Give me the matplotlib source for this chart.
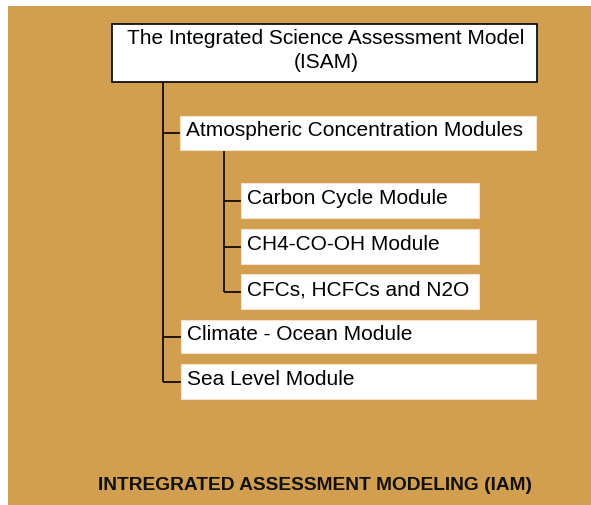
import matplotlib
matplotlib.use("Agg")
import matplotlib.pyplot as plt
from matplotlib.patches import Rectangle

# -------------------------
# Diagram content
# -------------------------
TITLE = ["The Integrated Science Assessment Model", "(ISAM)"]
LEVEL1 = ["Atmospheric Concentration Modules", "Climate - Ocean Module", "Sea Level Module"]
LEVEL2 = ["Carbon Cycle Module", "CH4-CO-OH Module", "CFCs, HCFCs and N2O"]
FOOTER = "INTREGRATED ASSESSMENT MODELING (IAM)"

# -------------------------
# Layout (pixels, y down)
# -------------------------
W, H = 591, 505
BG = "#D29F51"
FONT = "Liberation Sans"
FS = 15

# boxes: (x0, x1, y0, y1)
top_box = (112, 537, 24, 82)
l1_boxes = [(180, 536, 116, 150), (181, 536, 320, 353), (181, 536, 364, 399)]
l2_boxes = [(241, 479, 183, 218), (241, 479, 229, 264), (241, 479, 274, 309)]
trunk_x = 163
branch_x = 224

fig = plt.figure(figsize=(W / 100, H / 100), dpi=100)
ax = fig.add_axes([0, 0, 1, 1])
ax.set_xlim(0, W)
ax.set_ylim(H, 0)
ax.axis("off")

ax.add_patch(Rectangle((8, 6), W - 8, H - 6, facecolor=BG, edgecolor="none"))


def box(b, label, border=False):
    x0, x1, y0, y1 = b
    ax.add_patch(Rectangle((x0, y0), x1 - x0, y1 - y0, facecolor="white",
                           edgecolor="black" if border else "#F3E3C8",
                           linewidth=1.2 if border else 0.8, zorder=2))
    if label:
        ax.text(x0 + 6, (y0 + y1) / 2 - 2, label, ha="left", va="center",
                fontsize=FS, family=FONT, color="black", zorder=3)


line_kw = dict(color="black", linewidth=1.2, zorder=1, solid_capstyle="butt")

# trunk from top box to the last level-1 item
l1_mid = [(b[2] + b[3]) / 2 for b in l1_boxes]
ax.plot([trunk_x, trunk_x], [top_box[3], l1_mid[-1]], **line_kw)
for b, y in zip(l1_boxes, l1_mid):
    ax.plot([trunk_x, b[0]], [y, y], **line_kw)

# branch under the atmospheric modules
l2_mid = [(b[2] + b[3]) / 2 for b in l2_boxes]
ax.plot([branch_x, branch_x], [l1_boxes[0][3], l2_mid[-1]], **line_kw)
for b, y in zip(l2_boxes, l2_mid):
    ax.plot([branch_x, b[0]], [y, y], **line_kw)

box(top_box, None, border=True)
for line, y in zip(TITLE, [38, 62]):
    ax.text(326, y, line, ha="center", va="center", fontsize=FS,
            family=FONT, color="black", zorder=3)
for b, lab in zip(l1_boxes, LEVEL1):
    box(b, lab)
for b, lab in zip(l2_boxes, LEVEL2):
    box(b, lab)

ax.text(315, 486, FOOTER, ha="center", va="center", fontsize=13.8,
        fontweight="bold", family=FONT, color="#111111")

fig.savefig("out.png", dpi=100)
